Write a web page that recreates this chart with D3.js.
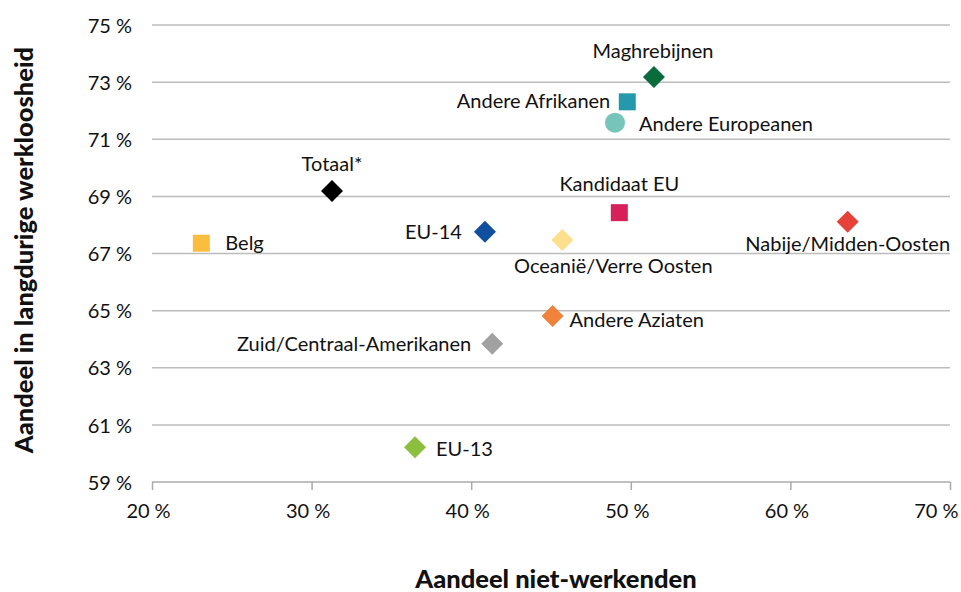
<!DOCTYPE html>
<html><head><meta charset="utf-8">
<script src="https://cdn.jsdelivr.net/npm/d3@7"></script>
<style>body{margin:0;background:#fff;} text{font-family:Lato,"Open Sans",sans-serif;fill:#111;}</style>
</head><body>
<svg id="c" width="961" height="592"></svg>
<script>
const categories = ["Maghrebijnen","Andere Afrikanen","Andere Europeanen","Totaal*","Belg","EU-14","Kandidaat EU","Oceanië/Verre Oosten","Nabije/Midden-Oosten","Andere Aziaten","Zuid/Centraal-Amerikanen","EU-13"];
const nietWerkenden = [51.45, 49.78, 49.01, 31.28, 23.09, 40.86, 49.28, 45.71, 63.59, 45.10, 41.32, 36.48];
const langdurig = [73.18, 72.31, 71.58, 69.19, 67.36, 67.76, 68.43, 67.47, 68.11, 64.81, 63.84, 60.22];
const shapes = ["diamond","square","circle","diamond","square","diamond","square","diamond","diamond","diamond","diamond","diamond"];
const colors = ["#0a6b3b","#2499ab","#77c4bb","#000000","#fbbd3d","#0f4f9e","#d8205a","#fedf8d","#e6423a","#f0823b","#a1a1a1","#8cbe3f"];
const xTicks = [20,30,40,50,60,70];
const yTicks = [59,61,63,65,67,69,71,73,75];
// label layout: [anchor, dx, dy] relative to marker centre
const labelLayout = [["middle",-1,-19],["end",-17,6],["start",24,8],["middle",0,-20],["start",24,7],["end",-23,7],["middle",0,-22],["middle",51,33],["middle",0,29],["start",17,11],["end",-21,7],["start",21,9]];

const svg = d3.select("#c");
const x = d3.scaleLinear().domain([20,70]).range([152,950]);
const y = d3.scaleLinear().domain([59,75]).range([482,25]);

svg.append("g").selectAll("line").data(yTicks).join("line")
  .attr("x1",152).attr("x2",950).attr("y1",d=>y(d)).attr("y2",d=>y(d))
  .attr("stroke",d=>d===59?"#aaaaaa":"#bcbcbc").attr("stroke-width",1.5);

const xAxis = svg.append("g").attr("transform","translate(0,482)")
  .call(d3.axisBottom(x).tickValues(xTicks).tickSize(8).tickFormat(d=>d+"\u202F%"));
xAxis.select(".domain").remove();
xAxis.selectAll(".tick line").attr("stroke","#aaaaaa").attr("stroke-width",1.5);
xAxis.selectAll(".tick text").attr("font-size",20).attr("dy",0).attr("y",36).attr("x",-4).attr("font-family","Lato").attr("fill","#111")
  .filter(d=>d===70).attr("text-anchor","end").attr("x",8);

const yAxis = svg.append("g").attr("transform","translate(152,0)")
  .call(d3.axisLeft(y).tickValues(yTicks).tickSize(0).tickPadding(20).tickFormat(d=>d+"\u202F%"));
yAxis.select(".domain").remove();
yAxis.selectAll(".tick text").attr("font-size",20).attr("dy","0.36em").attr("font-family","Lato").attr("fill","#111");

const data = categories.map((c,i)=>({c, x:nietWerkenden[i], y:langdurig[i], s:shapes[i], col:colors[i], l:labelLayout[i]}));
const sym = {diamond: d3.symbol().type(d3.symbolSquare).size(242), square: d3.symbol().type(d3.symbolSquare).size(289), circle: d3.symbol().type(d3.symbolCircle).size(314)};
svg.append("g").selectAll("path").data(data).join("path")
  .attr("d",d=>sym[d.s]())
  .attr("transform",d=>`translate(${x(d.x)},${y(d.y)})${d.s==="diamond"?" rotate(45)":""}`)
  .attr("fill",d=>d.col);

svg.append("g").selectAll("text").data(data).join("text")
  .attr("x",d=>x(d.x)+d.l[1]).attr("y",d=>y(d.y)+d.l[2])
  .attr("text-anchor",d=>d.l[0]).attr("font-size",20).text(d=>d.c);

svg.append("text").attr("x",556).attr("y",588).attr("text-anchor","middle")
  .attr("font-size",25.5).attr("font-weight",900).text("Aandeel niet-werkenden");
svg.append("text").attr("transform","translate(33,250) rotate(-90)").attr("text-anchor","middle")
  .attr("font-size",25.5).attr("font-weight",900).text("Aandeel in langdurige werkloosheid");
</script>
</body></html>
